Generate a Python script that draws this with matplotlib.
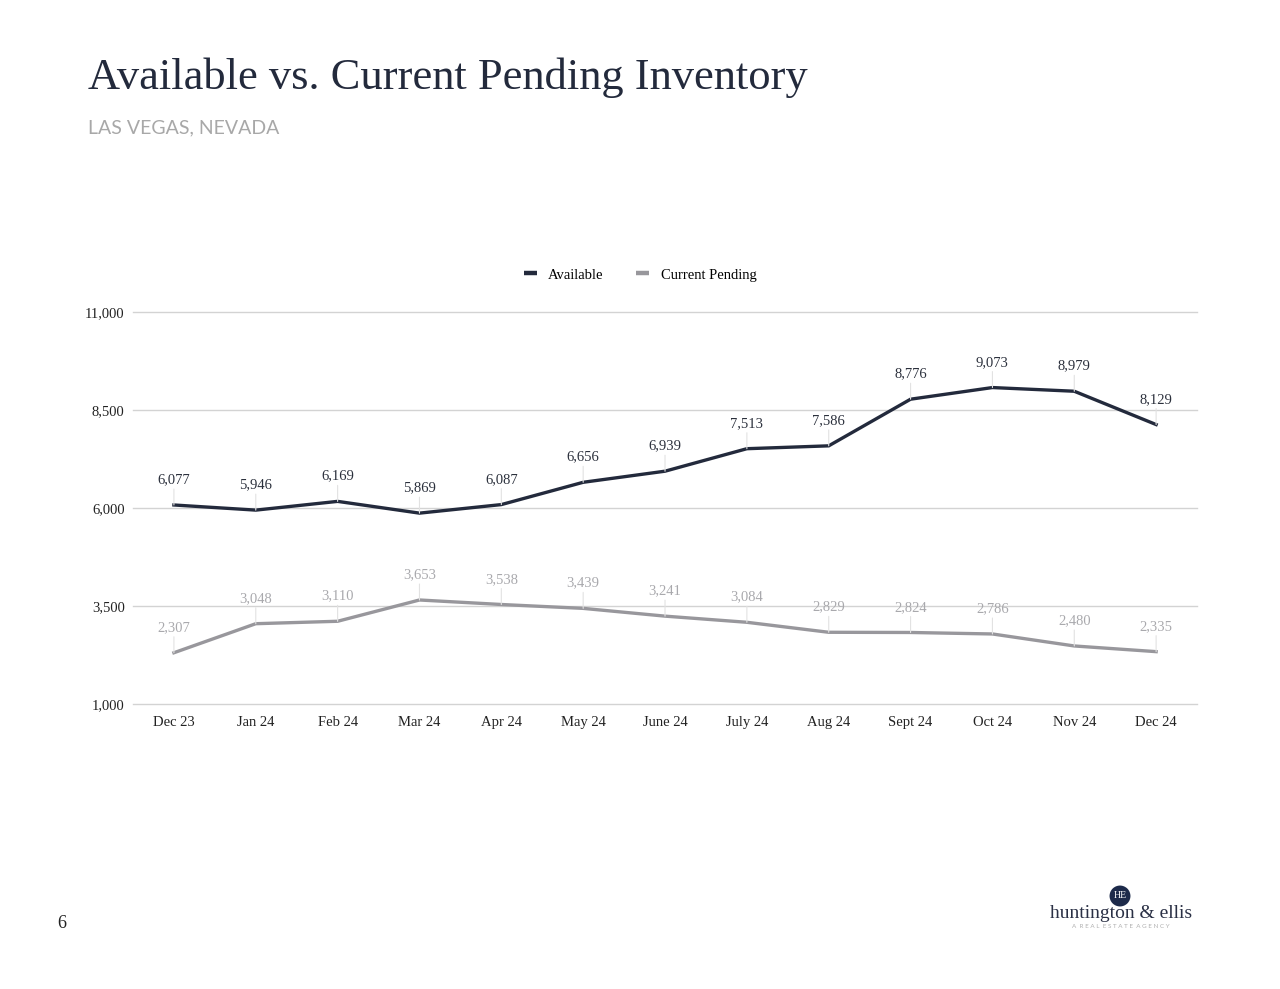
import matplotlib.pyplot as plt
from matplotlib.lines import Line2D

months = ["Dec 23", "Jan 24", "Feb 24", "Mar 24", "Apr 24", "May 24", "June 24",
          "July 24", "Aug 24", "Sept 24", "Oct 24", "Nov 24", "Dec 24"]
available = [6077, 5946, 6169, 5869, 6087, 6656, 6939, 7513, 7586, 8776, 9073, 8979, 8129]
pending = [2307, 3048, 3110, 3653, 3538, 3439, 3241, 3084, 2829, 2824, 2786, 2480, 2335]
y_ticks = [1000, 3500, 6000, 8500, 11000]

navy = "#232a3c"
grey = "#98979c"
serif = "Liberation Serif"

fig = plt.figure(figsize=(12.8, 9.89), dpi=100)
ax = fig.add_axes([0.1039, 0.2882, 0.8313, 0.3963])

x = list(range(len(months)))
ax.plot(x, available, color=navy, lw=2.4, solid_joinstyle="miter", zorder=3)
ax.plot(x, pending, color=grey, lw=2.4, solid_joinstyle="miter", zorder=3)

# value labels with thin leader lines
for series, col in [(available, "#2b303c"), (pending, "#a9a9ad")]:
    for i, v in enumerate(series):
        ax.annotate(f"{v:,}", xy=(i, v), xytext=(0, 13.5), textcoords="offset points",
                    ha="center", va="bottom", fontsize=10.5, family=serif, color=col,
                    arrowprops=dict(arrowstyle="-", color="#e2e2e2", lw=0.8,
                                    shrinkA=0, shrinkB=0))

ax.set_xlim(-0.5, len(months) - 0.5)
ax.set_ylim(1000, 11000)
ax.set_yticks(y_ticks)
ax.set_yticklabels([f"{t:,}" for t in y_ticks])
ax.set_xticks(x)
ax.set_xticklabels(months)
# gridlines drawn unclipped so the 1,000 line isn't cut in half
for t in y_ticks:
    ax.axhline(t, color="#d3d3d3", lw=1, clip_on=False, zorder=1)
for s in ax.spines.values():
    s.set_visible(False)
ax.tick_params(length=0, labelsize=10.5, labelcolor="#222222")
ax.tick_params(axis="x", pad=9)
ax.tick_params(axis="y", pad=6)
for lab in ax.get_xticklabels() + ax.get_yticklabels():
    lab.set_family(serif)

handles = [Line2D([], [], color=navy, lw=3.2, solid_capstyle="butt"),
           Line2D([], [], color=grey, lw=3.2, solid_capstyle="butt")]
fig.legend(handles, ["Available", "Current Pending"], loc="center",
           bbox_to_anchor=(0.5, 1 - 275 / 989), ncol=2, frameon=False,
           prop={"family": serif, "size": 10.5}, handlelength=0.9, columnspacing=2.2,
           handletextpad=0.8)

# header
fig.text(88 / 1280, 1 - 78 / 989, "Available vs. Current Pending Inventory",
         family=serif, fontsize=32, color="#232a3c", va="center", ha="left")
fig.text(88 / 1280, 1 - 128 / 989, "LAS VEGAS, NEVADA", family="Lato",
         fontsize=14, color="#a8a8a8", va="center", ha="left")

# footer
fig.text(62 / 1280, 1 - 924 / 989, "6", family=serif, fontsize=13, color="#222222",
         ha="center", va="center")
fig.text(1120 / 1280, 1 - 896 / 989, "HE", family=serif, fontsize=7, color="white",
         ha="center", va="center",
         bbox=dict(boxstyle="circle,pad=0.4", fc="#1d2a4a", ec="none"))
fig.text(1121 / 1280, 1 - 913 / 989, "huntington & ellis", family=serif, fontsize=14,
         color="#2a3045", ha="center", va="center")
fig.text(1121 / 1280, 1 - 927 / 989, "A  R E A L  E S T A T E  A G E N C Y", family="Lato",
         fontsize=4.5, color="#b0b0b0", ha="center", va="center")

fig.savefig("out.png", dpi=100, facecolor="white")
